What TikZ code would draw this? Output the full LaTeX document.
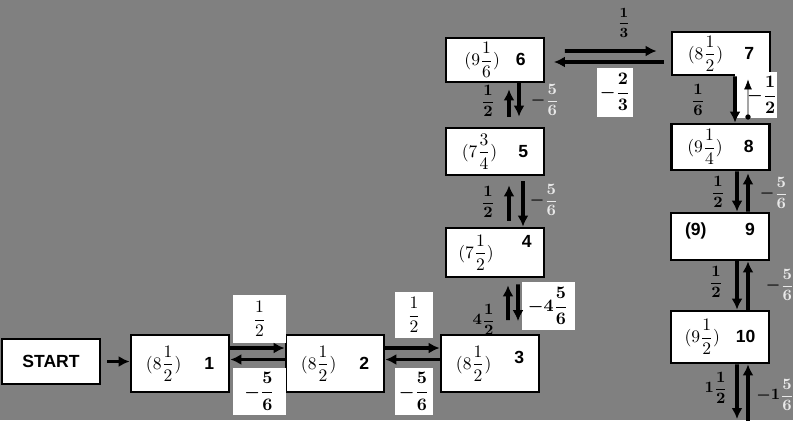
\documentclass[tikz,border=0pt]{standalone}
\usepackage{amsmath}
\usepackage{fontspec}
\setsansfont{Liberation Sans}
\usetikzlibrary{arrows.meta}
\definecolor{bggray}{RGB}{128,128,128}
\definecolor{pale}{RGB}{232,232,232}
\newcommand{\nr}[1]{\textsf{\bfseries #1}}
\newcommand{\pfrac}[2]{\textcolor{pale}{\dfrac{#1}{#2}}}
\begin{document}
\begin{tikzpicture}[x=0.02cm, y=-0.02cm, >={Latex[length=2.2mm,width=2.2mm]},
  main node/.style={rectangle,draw,ultra thick,fill=white,minimum width=1.96cm,inner sep=0pt},
  lbl node/.style={fill=white,inner sep=0pt},
  tag node/.style={inner sep=0pt,font=\bfseries\boldmath},
  link/.style={line width=2.2pt}]
\fill[bggray] (0,0) rectangle (793,420);
\useasboundingbox (0,0) rectangle (793,420);
\begin{scope}[every node/.style={main node}]
\node[minimum height=0.9cm] (start) at (51,361.5) {\nr{START}};
\node[minimum height=1.14cm] (v1) at (180,363.5) {$(8\dfrac{1}{2})$\hspace{1.3em}\nr{1}};%1
\node[minimum height=1.14cm] (v2) at (335,363.5) {$(8\dfrac{1}{2})$\hspace{1.3em}\nr{2}};%2
\node[minimum height=1.14cm] (v3) at (490,363.5) {$(8\dfrac{1}{2})$\hspace{1.3em}\raisebox{3pt}{\nr{3}}};%3
\node[minimum height=0.98cm] (v4) at (495,252.5) {$(7\dfrac{1}{2})$\hspace{1.6em}\raisebox{6pt}{\nr{4}}};%4
\node[minimum height=0.94cm] (v5) at (495,151.5) {$(7\dfrac{3}{4})$\hspace{1.2em}\nr{5}};%5
\node[minimum height=0.88cm] (v6) at (495,60) {$(9\dfrac{1}{6})$\hspace{0.9em}\nr{6}};%6
\node[minimum height=0.86cm] (v7) at (721,53.5) {$(8\dfrac{1}{2})$\hspace{1.2em}\nr{7}};%7
\node[minimum height=0.92cm] (v8) at (720.5,147) {$(9\dfrac{1}{4})$\hspace{1.2em}\nr{8}};%8
\node[minimum height=0.94cm] (v9) at (720,236.5) {\raisebox{8pt}{\nr{(9)}\hspace{2.2em}\nr{9}}};%9
\node[minimum height=1.04cm] (v10) at (720,337) {$(9\dfrac{1}{2})$\hspace{0.9em}\nr{10}};%10
\end{scope}
% labels in white boxes
\node[lbl node,minimum width=1.06cm,minimum height=0.96cm] (l12a) at (259.5,319) {$\dfrac{1}{2}$};
\node[lbl node,minimum width=1.06cm,minimum height=0.94cm,font=\boldmath] (l12b) at (259.5,391.5) {$-\dfrac{5}{6}$};
\node[lbl node,minimum width=0.76cm,minimum height=0.92cm] (l23a) at (414,315) {$\dfrac{1}{2}$};
\node[lbl node,minimum width=0.76cm,minimum height=0.94cm,font=\boldmath] (l23b) at (414,391.5) {$-\dfrac{5}{6}$};
\node[lbl node,minimum width=1.06cm,minimum height=0.96cm,font=\boldmath] (l34b) at (548,306) {$-4\dfrac{5}{6}$};
\node[lbl node,minimum width=0.72cm,minimum height=0.98cm,font=\boldmath] (l67b) at (615,92) {$-\dfrac{2}{3}$};
\node[lbl node,minimum width=0.68cm,minimum height=0.92cm,font=\boldmath] (l78b) at (756,95) {\hspace{0.25cm}$-\dfrac{1}{2}$};
% labels on the grey
\begin{scope}[every node/.style={tag node}]
\node (l34a) at (484,320) {\small$4\dfrac{1}{2}$};
\node (l45a) at (488,202) {\small$\dfrac{1}{2}$};
\node (l45b) at (544,200) {\small$-\pfrac{5}{6}$};
\node (l56a) at (488,101) {\small$\dfrac{1}{2}$};
\node (l56b) at (545,100) {\small$-\pfrac{5}{6}$};
\node (l67a) at (624,23) {\footnotesize$\dfrac{1}{3}$};
\node (l78a) at (698,100) {\small$\dfrac{1}{6}$};
\node (l89a) at (718,192) {\small$\dfrac{1}{2}$};
\node (l89b) at (774,193) {\small$-\pfrac{5}{6}$};
\node (l910a) at (716,282) {\small$\dfrac{1}{2}$};
\node (l910b) at (780,285) {\small$-\pfrac{5}{6}$};
\node (louta) at (716,388) {\small$1\dfrac{1}{2}$};
\node (loutb) at (775,395) {\small$-1\pfrac{5}{6}$};
\end{scope}
\coordinate (out1) at (737,419);
\coordinate (out2) at (748,421);
\begin{scope}[every path/.style={link}]
\draw[->,shorten <=0.12cm] (start.east) -- (start.east -| v1.west);
\draw[->] ([yshift=0.31cm]v1.east) -- ([yshift=0.31cm]v2.west);
\draw[->] ([yshift=0.08cm]v2.west) -- ([yshift=0.08cm]v1.east);
\draw[->] ([yshift=0.31cm]v2.east) -- ([yshift=0.31cm]v3.west);
\draw[->] ([yshift=0.08cm]v3.west) -- ([yshift=0.08cm]v2.east);
\draw[->,shorten <=0.27cm,shorten >=0.14cm] ([xshift=0.36cm]v3.north) -- ([xshift=0.26cm]v4.south);
\draw[->,shorten <=0.12cm,shorten >=0.25cm] ([xshift=0.46cm]v4.south) -- ([xshift=0.56cm]v3.north);
\draw[->,shorten <=0.12cm,shorten >=0.18cm] ([xshift=0.28cm]v4.north) -- ([xshift=0.28cm]v5.south);
\draw[->,shorten <=0.1cm] ([xshift=0.56cm]v5.south) -- ([xshift=0.56cm]v4.north);
\draw[->,shorten <=0.2cm,shorten >=0.12cm] ([xshift=0.28cm]v5.north) -- ([xshift=0.28cm]v6.south);
\draw[->,shorten >=0.2cm] ([xshift=0.48cm]v6.south) -- ([xshift=0.48cm]v5.north);
\draw[->,shorten <=0.39cm,shorten >=0.28cm] ([yshift=0.18cm]v6.east) -- ([yshift=0.05cm]v7.west);
\draw[->,shorten <=0.14cm,shorten >=0.17cm] ([yshift=-0.17cm]v7.west) -- ([yshift=-0.17cm]v7.west -| v6.east);
\draw[->] ([xshift=0.28cm]v7.south) -- ([xshift=0.29cm]v8.north);
\draw[{Circle[length=3pt]}-{Latex[length=2mm,width=1.6mm]},thin,shorten <=0.06cm,shorten >=0.06cm] ([xshift=0.55cm]v8.north) -- ([xshift=0.54cm]v7.south);
\draw[->] ([xshift=0.33cm]v8.south) -- ([xshift=0.34cm]v9.north);
\draw[->,shorten >=0.04cm] ([xshift=0.56cm]v9.north) -- ([xshift=0.55cm]v8.south);
\draw[->] ([xshift=0.34cm]v9.south) -- ([xshift=0.34cm]v10.north);
\draw[->] ([xshift=0.56cm]v10.north) -- ([xshift=0.56cm]v9.south);
\draw[->] ([xshift=0.34cm]v10.south) -- (out1);
\draw[->] (out2) -- ([xshift=0.56cm]v10.south);
\end{scope}
\end{tikzpicture}
\end{document}
